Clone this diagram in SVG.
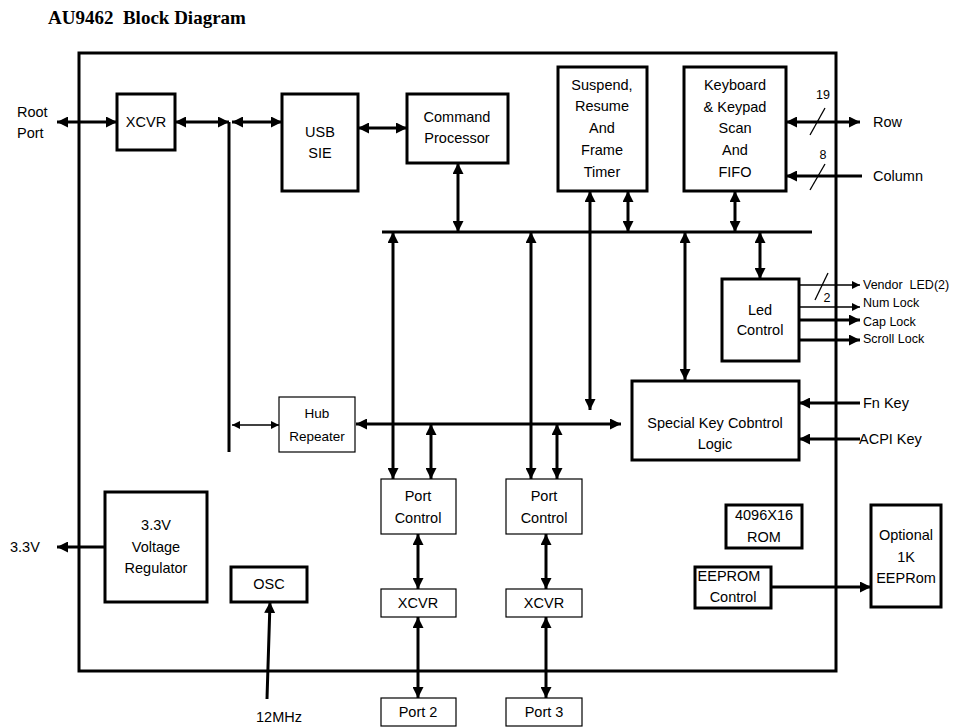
<svg xmlns="http://www.w3.org/2000/svg" width="955" height="728" viewBox="0 0 955 728">
<style>
text{font-family:"Liberation Sans",Arial,sans-serif;font-size:14.5px;fill:#000;text-anchor:middle}
.l{text-anchor:start}
.s{font-size:12.5px}
.h{font-size:13.5px}
.title{font-family:"Liberation Serif","Times New Roman",serif;font-weight:bold;font-size:19px;text-anchor:start;white-space:pre}
.bk{fill:#fff;stroke:#000;stroke-width:3}
.bn{fill:#fff;stroke:#000;stroke-width:1.2}
.c{fill:none;stroke:#000;stroke-width:3}
.t{fill:none;stroke:#000;stroke-width:1.3}
.da{marker-start:url(#a);marker-end:url(#a)}
.ea{marker-end:url(#a)}
.ds{marker-start:url(#sa);marker-end:url(#sa)}
.es{marker-end:url(#sa)}
</style>
<defs>
<marker id="a" viewBox="0 0 10 10" refX="10" refY="5" markerWidth="11" markerHeight="11" markerUnits="userSpaceOnUse" orient="auto-start-reverse"><path d="M0,0L10,5L0,10z"/></marker>
<marker id="sa" viewBox="0 0 10 10" refX="10" refY="5" markerWidth="8" markerHeight="8" markerUnits="userSpaceOnUse" orient="auto-start-reverse"><path d="M0,0L10,5L0,10z"/></marker>
</defs>
<rect width="955" height="728" fill="#fff"/>
<text class="title" x="48" y="24">AU9462  Block Diagram</text>
<rect id="chip" class="bk" x="79" y="53" width="757" height="618"/>

<g id="connectors">
<line class="c" x1="229" y1="122" x2="229" y2="452"/>
<line class="c" x1="382" y1="232" x2="812" y2="232"/>
<line class="c da" x1="57" y1="122" x2="117" y2="122"/>
<line class="c da" x1="175" y1="122" x2="229" y2="122"/>
<line class="c da" x1="232" y1="122" x2="282" y2="122"/>
<line class="c da" x1="358" y1="128" x2="407" y2="128"/>
<line class="c da" x1="458" y1="163" x2="458" y2="232"/>
<line class="c da" x1="628" y1="191" x2="628" y2="232"/>
<line class="c da" x1="735" y1="191" x2="735" y2="232"/>
<line class="c da" x1="786" y1="122" x2="860" y2="122"/>
<line class="c ea" x1="862" y1="176" x2="786" y2="176"/>
<line class="t" x1="825" y1="108" x2="810" y2="135"/>
<line class="t" x1="825" y1="164" x2="810" y2="190"/>
<line class="c da" x1="590" y1="191" x2="590" y2="410"/>
<line class="c da" x1="760" y1="232" x2="760" y2="279"/>
<line class="c da" x1="685" y1="232" x2="685" y2="380"/>
<line class="c da" x1="393" y1="232" x2="393" y2="479"/>
<line class="c da" x1="531" y1="232" x2="531" y2="479"/>
<line class="c da" x1="431" y1="424" x2="431" y2="479"/>
<line class="c da" x1="557" y1="424" x2="557" y2="479"/>
<line class="c da" x1="356" y1="424" x2="621" y2="424"/>
<line class="t ds" x1="232" y1="425" x2="279" y2="425"/>
<line class="c da" x1="418" y1="534" x2="418" y2="589"/>
<line class="c da" x1="546" y1="534" x2="546" y2="589"/>
<line class="c da" x1="418" y1="617" x2="418" y2="698"/>
<line class="c da" x1="546" y1="617" x2="546" y2="698"/>
<line class="c ea" x1="105" y1="547" x2="57" y2="547"/>
<line class="c ea" x1="267" y1="699" x2="270" y2="602"/>
<line class="c ea" x1="771" y1="587" x2="871" y2="587"/>
<line class="t es" x1="799" y1="285" x2="860" y2="285"/>
<line class="t" x1="828" y1="273" x2="815" y2="300"/>
<line class="t es" x1="799" y1="307" x2="860" y2="307"/>
<line class="c ea" x1="799" y1="320" x2="860" y2="320"/>
<line class="c ea" x1="795" y1="340" x2="860" y2="340"/>
<line class="c ea" x1="860" y1="403" x2="799" y2="403"/>
<line class="c ea" x1="860" y1="439" x2="799" y2="439"/>
</g>

<g id="xcvr-root"><rect class="bk" x="117" y="94" width="58" height="56"/><text x="146" y="127">XCVR</text></g>
<g id="usb-sie"><rect class="bk" x="282" y="94" width="76" height="97"/><text x="320" y="137">USB</text><text x="320" y="158">SIE</text></g>
<g id="command"><rect class="bk" x="407" y="94" width="101" height="69"/><text x="457" y="122">Command</text><text x="457" y="143">Processor</text></g>
<g id="suspend"><rect class="bk" x="558" y="67" width="89" height="124"/><text x="602" y="90">Suspend,</text><text x="602" y="111">Resume</text><text x="602" y="133">And</text><text x="602" y="155">Frame</text><text x="602" y="177">Timer</text></g>
<g id="keyboard"><rect class="bk" x="684" y="67" width="102" height="124"/><text x="735" y="90">Keyboard</text><text x="735" y="112">&amp; Keypad</text><text x="735" y="133">Scan</text><text x="735" y="155">And</text><text x="735" y="177">FIFO</text></g>
<g id="led"><rect class="bk" x="722" y="279" width="77" height="82"/><text x="760" y="315">Led</text><text x="760" y="335">Control</text></g>
<g id="special"><rect class="bk" x="632" y="381" width="167" height="79"/><text x="715" y="428">Special Key Cobntrol</text><text x="715" y="449">Logic</text></g>
<g id="hub"><rect class="bn" x="279" y="397" width="76" height="55"/><text class="h" x="317" y="418">Hub</text><text class="h" x="317" y="441">Repeater</text></g>
<g id="portctl2"><rect class="bn" x="381" y="479" width="75" height="55"/><text x="418" y="501">Port</text><text x="418" y="523">Control</text></g>
<g id="portctl3"><rect class="bn" x="506" y="479" width="76" height="55"/><text x="544" y="501">Port</text><text x="544" y="523">Control</text></g>
<g id="xcvr2"><rect class="bn" x="381" y="589" width="75" height="28"/><text x="418" y="608">XCVR</text></g>
<g id="xcvr3"><rect class="bn" x="506" y="589" width="76" height="28"/><text x="544" y="608">XCVR</text></g>
<g id="port2"><rect class="bn" x="381" y="698" width="75" height="28"/><text x="418" y="717">Port 2</text></g>
<g id="port3"><rect class="bn" x="506" y="698" width="76" height="28"/><text x="544" y="717">Port 3</text></g>
<g id="regulator"><rect class="bk" x="105" y="492" width="102" height="110"/><text x="156" y="530">3.3V</text><text x="156" y="552">Voltage</text><text x="156" y="573">Regulator</text></g>
<g id="osc"><rect class="bk" x="231" y="567" width="76" height="35"/><text x="269" y="589">OSC</text></g>
<g id="rom"><rect class="bk" x="726" y="505" width="76" height="43"/><text x="764" y="520">4096X16</text><text x="764" y="542">ROM</text></g>
<g id="eeprom-ctl"><rect class="bk" x="695" y="567" width="76" height="41"/><text x="729" y="581">EEPROM</text><text x="733" y="602">Control</text></g>
<g id="eeprom"><rect class="bk" x="871" y="505" width="70" height="102"/><text x="906" y="540">Optional</text><text x="906" y="562">1K</text><text x="906" y="583">EEPRom</text></g>

<g id="labels">
<text class="l" x="17" y="117">Root</text>
<text class="l" x="17" y="138">Port</text>
<text class="l" x="873" y="127">Row</text>
<text class="l" x="873" y="181">Column</text>
<text class="s" x="823" y="99">19</text>
<text class="s" x="823" y="159">8</text>
<text class="s" x="827" y="302">2</text>
<text class="l s" x="863" y="289" style="white-space:pre">Vendor  LED(2)</text>
<text class="l s" x="863" y="307">Num Lock</text>
<text class="l s" x="863" y="326">Cap Lock</text>
<text class="l s" x="863" y="343">Scroll Lock</text>
<text class="l" x="863" y="408">Fn Key</text>
<text class="l" x="859" y="444">ACPI Key</text>
<text class="l" x="10" y="552">3.3V</text>
<text x="279" y="722">12MHz</text>
</g>
</svg>
